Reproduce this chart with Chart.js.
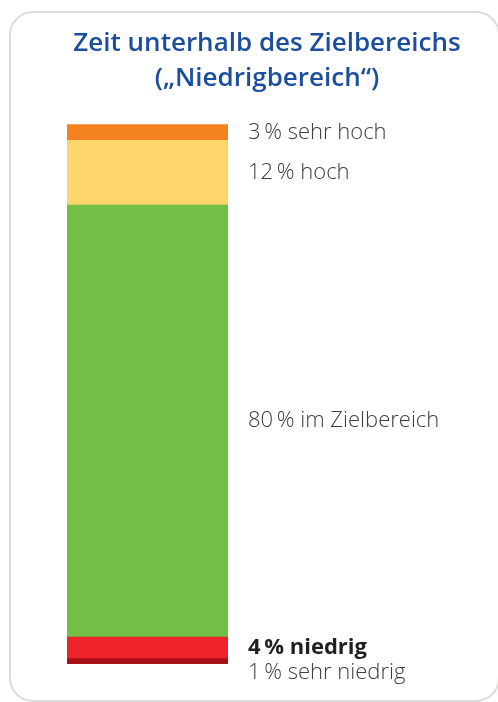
<!DOCTYPE html>
<html lang="de">
<head>
<meta charset="utf-8">
<title>Zeit unterhalb des Zielbereichs</title>
<script src="https://cdn.jsdelivr.net/npm/chart.js@4.4.1/dist/chart.umd.min.js"></script>
<style>
  html, body { margin: 0; padding: 0; background: #ffffff; }
  body { width: 498px; height: 702px; position: relative; overflow: hidden; }
  .card {
    position: absolute; left: 9px; top: 11px;
    width: 491px; height: 691px; box-sizing: border-box;
    border: 2.5px solid #dcdcd8; border-radius: 24px; background: #ffffff;
  }
  .wrap { position: absolute; left: 0; top: 0; width: 498px; height: 702px; }
</style>
</head>
<body>
<div class="card"></div>
<div class="wrap"><canvas id="chart"></canvas></div>
<script>
// Glucose ranges, stacked from bottom to top
const categories = ['Zeit'];
const rangeNames = ['sehr niedrig', 'niedrig', 'im Zielbereich', 'hoch', 'sehr hoch'];
const rangePercents = [1, 4, 80, 12, 3];
const titleLines = ['Zeit unterhalb des Zielbereichs', '(\u201eNiedrigbereich\u201c)'];

const rangeColors = ['#a80f16', '#ee2229', '#72bf45', '#fdd56a', '#f48221'];
const highlighted = 'niedrig';
const labelFont = '"Open Sans", Lato, sans-serif';

const datasets = rangeNames.map((name, i) => ({
  label: name,
  data: [rangePercents[i]],
  backgroundColor: rangeColors[i],
  borderWidth: 0,
  barPercentage: 1,
  categoryPercentage: 1
}));

// Invisible side axes that only reserve room around the bar
const spacer = (width, position) => ({
  display: true,
  position,
  stacked: true,
  min: 0,
  max: 100,
  ticks: { display: false },
  grid: { display: false },
  border: { display: false },
  afterFit(scale) { scale.width = width; }
});

// Writes "<n> % <range>" to the right of each segment
const segmentLabels = {
  id: 'segmentLabels',
  afterDraw(chart) {
    const ctx = chart.ctx;
    const x = chart.chartArea.right + 20;
    ctx.save();
    ctx.textAlign = 'left';
    ctx.textBaseline = 'middle';
    let lowY = null;
    chart.data.datasets.forEach((ds, i) => {
      if (i === 0) return; // placed under the "niedrig" label below
      const bar = chart.getDatasetMeta(i).data[0];
      const y = (bar.y + bar.base) / 2;
      const bold = ds.label === highlighted;
      if (bold) lowY = y;
      ctx.font = (bold ? '700 ' : '300 ') + '22px ' + labelFont;
      ctx.fillStyle = bold ? '#231f20' : '#3d3d3d';
      ctx.fillText(ds.data[0] + '\u2009% ' + ds.label, x, y);
    });
    // lowest range sits beneath the "niedrig" label
    const first = chart.data.datasets[0];
    ctx.font = '300 22px ' + labelFont;
    ctx.fillStyle = '#3d3d3d';
    ctx.fillText(first.data[0] + '\u2009% ' + first.label, x, lowY + 25);
    ctx.restore();
  }
};

new Chart(document.getElementById('chart'), {
  type: 'bar',
  data: { labels: categories, datasets },
  options: {
    responsive: true,
    maintainAspectRatio: false,
    animation: false,
    layout: { padding: { left: 36, right: 0, top: 26, bottom: 38 } },
    scales: {
      x: { stacked: true, display: false },
      y: spacer(31, 'left'),
      yRight: spacer(270, 'right')
    },
    plugins: {
      legend: { display: false },
      tooltip: { enabled: false },
      title: {
        display: true,
        text: titleLines,
        color: '#1c4e9e',
        font: { family: labelFont, size: 26, weight: '600', lineHeight: 1.35 },
        padding: { top: 0, bottom: 28 }
      }
    }
  },
  plugins: [segmentLabels]
});
</script>
</body>
</html>
